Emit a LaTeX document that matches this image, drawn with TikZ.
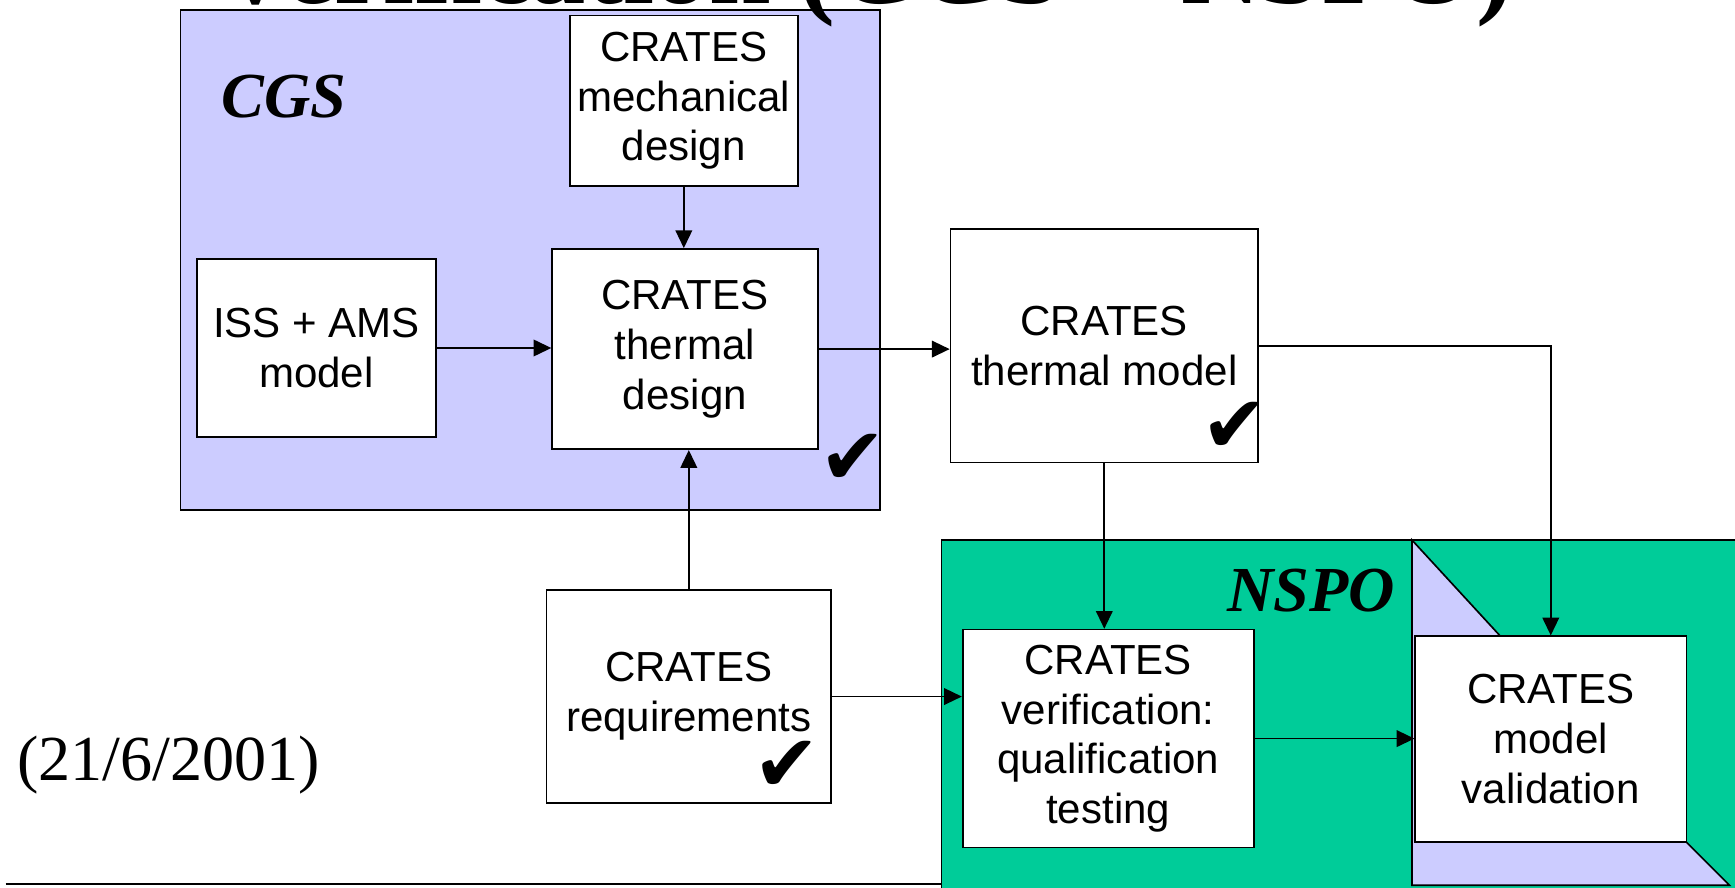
\documentclass[tikz,border=0pt]{standalone}
\usepackage{fontspec}
\setmainfont{Liberation Serif}
\setsansfont{Liberation Sans}
\newfontfamily\symfont{DejaVu Sans}
\usetikzlibrary{arrows.meta}
\definecolor{lav}{HTML}{CCCCFF}
\definecolor{nspogreen}{HTML}{00CC99}
\tikzset{
  box/.style={draw, fill=white, line width=0.75pt, inner sep=0pt, align=center,
    font=\sffamily\fontsize{19}{22.5}\selectfont},
  arr/.style={-{Triangle[length=8pt,width=7.5pt]}, line width=0.75pt},
  checkmk/.style={font=\symfont\fontsize{36}{36}\selectfont, inner sep=0pt},
  grouplbl/.style={font=\rmfamily\bfseries\itshape\fontsize{29}{30}\selectfont, inner sep=0pt, anchor=base west},
}
\begin{document}
\begin{tikzpicture}[x=0.5pt,y=-0.5pt]
\useasboundingbox (0,0) rectangle (1568,802);
% CGS area
\filldraw[fill=lav, line width=0.75pt] (163,9) rectangle (795,461);
% title (cut off at the top)
\node[font=\rmfamily\bfseries\fontsize{50}{55}\selectfont, inner sep=0pt, anchor=base] (title) at (781,3) {Verification (CGS + NSPO)};
% NSPO area
\fill[nspogreen] (851,488) rectangle (1600,830);
\draw[line width=0.75pt] (1600,488) -- (851,488) -- (851,830);
\filldraw[fill=lav, line width=0.75pt] (1276,488) -- (1356,575) -- (1279,575) -- (1279,761) -- (1524,761) -- (1563,800) -- (1276,800) -- cycle;
% bottom rule
\draw[line width=1pt] (5,799) -- (851,799);

% boxes
\node[box, minimum width=103pt, minimum height=77pt] (mech) at (618,91) {CRATES\\mechanical\\design};
\node[box, minimum width=108pt, minimum height=80.5pt] (iss) at (286,314.5) {ISS + AMS\\model};
\node[box, minimum width=120pt, minimum height=90.5pt] (tdes) at (619,315.5) {CRATES\\thermal\\design};
\node[box, minimum width=139pt, minimum height=105.5pt] (tmod) at (998,312.5) {CRATES\\thermal model};
\node[box, minimum width=128.5pt, minimum height=96.5pt] (req) at (622.5,629.5) {CRATES\\requirements};
\node[box, minimum width=131.5pt, minimum height=98.5pt] (qual) at (1001.5,667.5) {CRATES\\verification:\\qualification\\testing};
\node[box, minimum width=122.5pt, minimum height=93pt] (val) at (1401.5,668) {CRATES\\model\\validation};

% connectors
\draw[arr] (mech.south) -- (mech.south |- tdes.north);
\draw[arr] (iss.east) -- (iss.east -| tdes.west);
\draw[arr] (req.north) -- (req.north |- tdes.south);
\draw[arr] (tdes.east) -- (tdes.east -| tmod.west);
\draw[arr] (tmod.south) -- (tmod.south |- qual.north);
\draw[arr] (tmod.east) -| (val.north);
\draw[arr] (req.east) -- (req.east -| qual.west);
\draw[arr] (qual.east) -- (qual.east -| val.west);

% labels
\node[grouplbl] (cgs) at (200,106) {CGS};
\node[grouplbl] (nspo) at (1109,553) {NSPO};
\node[font=\rmfamily\fontsize{29}{30}\selectfont, inner sep=0pt, anchor=base west] (date) at (15,705) {(21/6/2001)};

% check marks
\node[checkmk] (ck1) at (771,415) {✔};
\node[checkmk] (ck2) at (1116,386) {✔};
\node[checkmk] (ck3) at (711,693) {✔};
\end{tikzpicture}
\end{document}
